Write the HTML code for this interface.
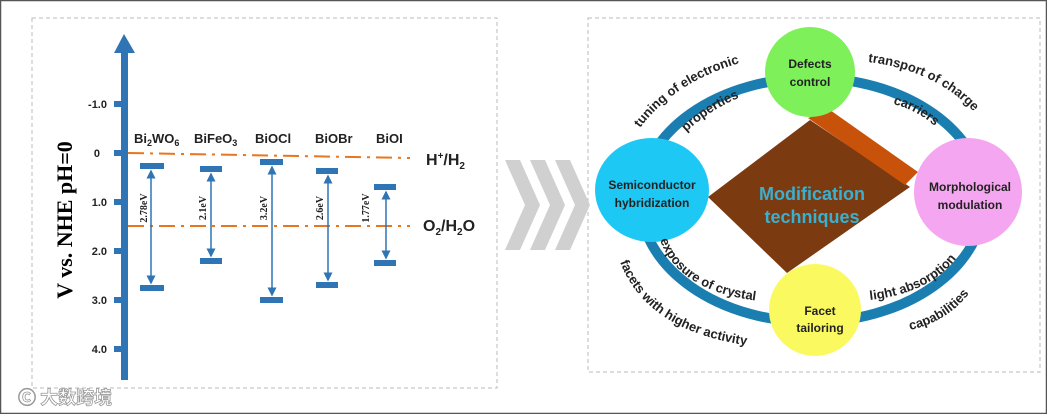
<!DOCTYPE html>
<html><head><meta charset="utf-8"><style>
html,body{margin:0;padding:0;background:#fff}
svg{display:block}
text{font-family:"Liberation Sans",sans-serif;font-weight:bold}
</style></head><body>
<svg width="1047" height="414" viewBox="0 0 1047 414" xmlns="http://www.w3.org/2000/svg">
<rect x="0.5" y="0.5" width="1046" height="413" fill="#fff" stroke="#555" stroke-width="1.5"/>
<rect x="32" y="18" width="465" height="370" fill="none" stroke="#bbb" stroke-dasharray="4,3"/>
<rect x="588" y="18" width="452" height="354" fill="none" stroke="#bbb" stroke-dasharray="4,3"/>
<!-- axis -->
<rect x="121" y="50" width="7" height="330" fill="#2f74b5"/>
<polygon points="124,34 114,53 135,53" fill="#2f74b5"/>
<g fill="#2f74b5">
<rect x="114" y="101" width="10" height="6"/><rect x="114" y="150" width="10" height="6"/>
<rect x="114" y="199" width="10" height="6"/><rect x="114" y="248" width="10" height="6"/>
<rect x="114" y="297" width="10" height="6"/><rect x="114" y="346" width="10" height="6"/>
</g>
<g font-size="11" text-anchor="end" fill="#222">
<text x="107" y="108">-1.0</text><text x="100" y="157">0</text><text x="107" y="206">1.0</text>
<text x="107" y="255">2.0</text><text x="107" y="304">3.0</text><text x="107" y="353">4.0</text>
</g>
<text transform="translate(72,220) rotate(-90)" text-anchor="middle" font-size="22" style="font-family:'Liberation Serif',serif">V vs. NHE pH=0</text>
<!-- materials -->
<g font-size="13" fill="#222">
<text x="134" y="143">Bi<tspan font-size="9" dy="3">2</tspan><tspan dy="-3">WO</tspan><tspan font-size="9" dy="3">6</tspan></text>
<text x="194" y="143">BiFeO<tspan font-size="9" dy="3">3</tspan></text>
<text x="255" y="143">BiOCl</text><text x="315" y="143">BiOBr</text><text x="376" y="143">BiOI</text>
</g>
<!-- ref lines -->
<line x1="128" y1="153" x2="410" y2="158" stroke="#e8761e" stroke-width="2" stroke-dasharray="16,6,3,6"/>
<line x1="128" y1="226" x2="410" y2="226" stroke="#e8761e" stroke-width="2" stroke-dasharray="16,6,3,6"/>
<text x="426" y="165" font-size="16" fill="#222">H<tspan font-size="10" dy="-6">+</tspan><tspan dy="6">/H</tspan><tspan font-size="10" dy="4">2</tspan></text>
<text x="423" y="231" font-size="16" fill="#222">O<tspan font-size="10" dy="4">2</tspan><tspan dy="-4">/H</tspan><tspan font-size="10" dy="4">2</tspan><tspan dy="-4">O</tspan></text>
<!-- bands -->
<defs><marker id="a" markerWidth="6" markerHeight="6" refX="5" refY="3" orient="auto-start-reverse"><path d="M0,0 L6,3 L0,6 z" fill="#2f74b5"/></marker></defs>
<g fill="#2f74b5">
<rect x="140" y="163" width="24" height="6"/><rect x="140" y="285" width="24" height="6"/>
<rect x="200" y="166" width="22" height="6"/><rect x="200" y="258" width="22" height="6"/>
<rect x="260" y="159" width="23" height="6"/><rect x="260" y="297" width="23" height="6"/>
<rect x="316" y="168" width="22" height="6"/><rect x="316" y="282" width="22" height="6"/>
<rect x="374" y="184" width="22" height="6"/><rect x="374" y="260" width="22" height="6"/>
</g>
<g stroke="#2f74b5" stroke-width="1.5" marker-start="url(#a)" marker-end="url(#a)">
<line x1="151" y1="283" x2="151" y2="171"/>
<line x1="211" y1="256" x2="211" y2="174"/>
<line x1="272" y1="295" x2="272" y2="167"/>
<line x1="328" y1="280" x2="328" y2="176"/>
<line x1="386" y1="258" x2="386" y2="192"/>
</g>
<g font-size="10" fill="#222" style="font-weight:normal" text-anchor="middle">
<text transform="translate(147,208) rotate(-90)" style="font-family:'Liberation Serif',serif">2.78eV</text>
<text transform="translate(206,208) rotate(-90)" style="font-family:'Liberation Serif',serif">2.1eV</text>
<text transform="translate(267,208) rotate(-90)" style="font-family:'Liberation Serif',serif">3.2eV</text>
<text transform="translate(323,208) rotate(-90)" style="font-family:'Liberation Serif',serif">2.6eV</text>
<text transform="translate(369,208) rotate(-90)" style="font-family:'Liberation Serif',serif">1.77eV</text>
</g>
<text x="18" y="404" font-size="18" fill="#fff" stroke="#999" stroke-width="0.8" style="font-family:'Noto Sans CJK SC',sans-serif">&#x24B8; 大数跨境</text>
<!-- chevrons -->
<g fill="#d0d0d0">
<polygon points="505,160 520,160 540,205 520,250 505,250 525,205"/>
<polygon points="530,160 545,160 565,205 545,250 530,250 550,205"/>
<polygon points="555,160 570,160 590,205 570,250 555,250 575,205"/>
</g>
<!-- right diagram -->
<ellipse cx="812" cy="200" rx="172" ry="122" fill="none" stroke="#1a7fb0" stroke-width="10"/>
<polygon points="810,120 910,187 787,273 708,197" fill="#7b3a10"/>
<polygon points="808,118 830,110 918,172 905,185" fill="#c8520a"/>
<text x="812" y="200" text-anchor="middle" font-size="18" fill="#3ab0d0">Modification</text>
<text x="812" y="223" text-anchor="middle" font-size="18" fill="#3ab0d0">techniques</text>
<circle cx="810" cy="72" r="45" fill="#7ef05a"/>
<ellipse cx="652" cy="190" rx="57" ry="52" fill="#1ec8f5"/>
<circle cx="968" cy="192" r="54" fill="#f5a6f0"/>
<circle cx="815" cy="310" r="46" fill="#fafa60"/>
<g font-size="12" text-anchor="middle" fill="#222">
<text x="810" y="68">Defects</text><text x="810" y="86">control</text>
<text x="652" y="189">Semiconductor</text><text x="652" y="207">hybridization</text>
<text x="970" y="191">Morphological</text><text x="970" y="209">modulation</text>
<text x="820" y="315">Facet</text><text x="820" y="332">tailoring</text>
</g>
<defs>
<path id="p1" d="M640,128 Q680,75 760,58"/>
<path id="p2" d="M686,132 Q715,105 754,92"/>
<path id="p3" d="M868,62 Q950,72 990,132"/>
<path id="p4" d="M893,104 Q925,112 945,137"/>
<path id="p5" d="M660,240 Q680,295 770,302"/>
<path id="p6" d="M620,262 Q650,340 775,348"/>
<path id="p7" d="M870,300 Q940,292 965,245"/>
<path id="p8" d="M910,330 Q955,320 978,280"/>
</defs>
<g font-size="13" fill="#222">
<text><textPath href="#p1">tuning of electronic</textPath></text>
<text><textPath href="#p2">properties</textPath></text>
<text><textPath href="#p3">transport of charge</textPath></text>
<text><textPath href="#p4">carriers</textPath></text>
<text><textPath href="#p5">exposure of crystal</textPath></text>
<text><textPath href="#p6">facets with higher activity</textPath></text>
<text><textPath href="#p7">light absorption</textPath></text>
<text><textPath href="#p8">capabilities</textPath></text>
</g>
</svg>
</body></html>
